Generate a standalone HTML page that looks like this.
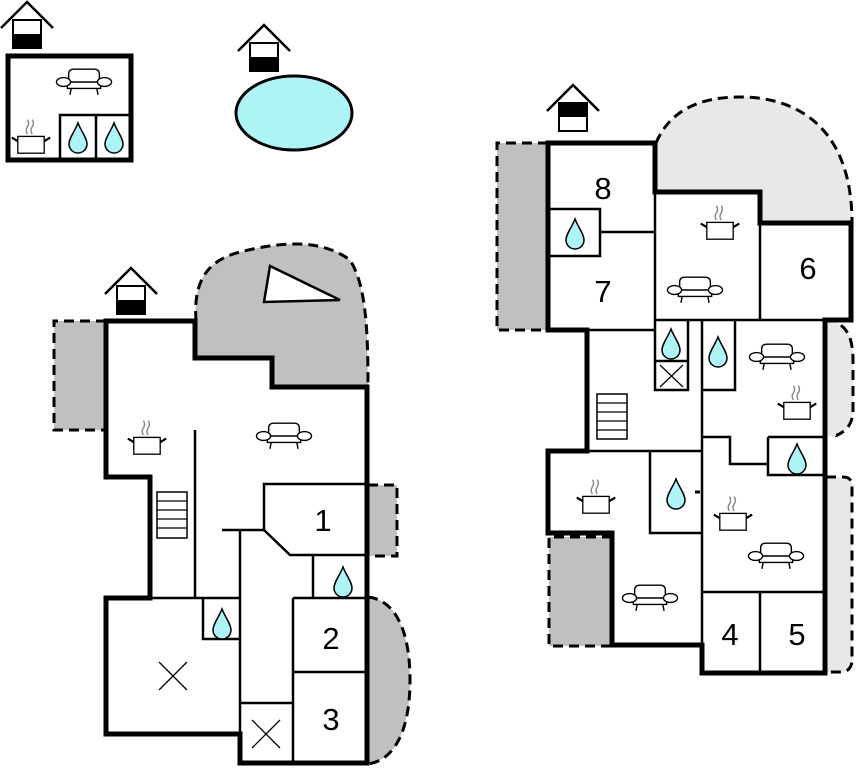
<!DOCTYPE html>
<html><head><meta charset="utf-8"><style>html,body{margin:0;padding:0;background:#fff}svg{display:block}</style></head>
<body>
<svg width="859" height="768" viewBox="0 0 859 768" xmlns="http://www.w3.org/2000/svg">
<defs>
<g id="sofa" fill="#fff" stroke="#000" stroke-width="1.1" transform="scale(1.28)">
<path d="M-12,0 V-6 Q-12,-10 -8,-10 H8 Q12,-10 12,-6 V0"/>
<path d="M-13,0 H13 V5 H-13Z"/>
<ellipse cx="-16" cy="0" rx="5.5" ry="3.5"/><ellipse cx="16" cy="0" rx="5.5" ry="3.5"/>
<path d="M-10,5 L-11,10 M10,5 L11,10" fill="none"/>
</g>
<g id="pot" transform="scale(1.2)">
<path d="M-3,-10 q-2,-3 0,-6 q2,-3 0,-6 M1,-10 q-2,-3 0,-6 q2,-3 0,-6" stroke="#888" stroke-width="1.2" fill="none"/>
<rect x="-11" y="-8" width="22" height="14" fill="#fff" stroke="#000" stroke-width="1.1"/>
<path d="M-11,-4 L-16,-7 M11,-4 L16,-7" stroke="#000" stroke-width="1.8"/>
</g>
<path id="drop" d="M0,-15 C-3,-7 -9,0 -9,6 A9,9 0 0 0 9,6 C9,0 3,-7 0,-15Z" fill="#aef4f6" stroke="#000" stroke-width="1.5"/>
<g id="houseB"><polyline points="-26,26 0,0 26,26" fill="none" stroke="#000" stroke-width="2.5"/><rect x="-14" y="18" width="28" height="28" fill="#fff" stroke="#000" stroke-width="2"/><rect x="-14" y="32" width="28" height="14" fill="#000"/></g>
<g id="houseT"><polyline points="-26,26 0,0 26,26" fill="none" stroke="#000" stroke-width="2.5"/><rect x="-14" y="18" width="28" height="28" fill="#fff" stroke="#000" stroke-width="2"/><rect x="-14" y="18" width="28" height="14" fill="#000"/></g>
<g id="xbox"><path d="M-14,-14 L14,14 M14,-14 L-14,14" stroke="#000" stroke-width="1.3"/></g>
</defs>

<!-- Top-left building -->
<use href="#houseB" x="27" y="2"/>
<rect x="8" y="56" width="123" height="104" fill="#fff" stroke="#000" stroke-width="5"/>
<path d="M60,162 V115 H131 M96,115 V162" fill="none" stroke="#000" stroke-width="2.5"/>
<use href="#sofa" x="84" y="82"/>
<use href="#pot" x="31" y="146"/>
<use href="#drop" x="78" y="138"/>
<use href="#drop" x="114" y="138"/>

<!-- Pool -->
<use href="#houseB" x="264" y="25"/>
<ellipse cx="294" cy="113" rx="58" ry="37" fill="#aef4f6" stroke="#000" stroke-width="3"/>

<!-- LEFT MAIN BUILDING -->
<path d="M106,321 H54 V430 H106" fill="#c0c0c0" stroke="#000" stroke-width="3" stroke-dasharray="10,6"/>
<path d="M196,321 C194,290 200,262 240,252 C280,242 320,238 350,260 C366,285 368,330 368,387 H272 V358 H196Z" fill="#c0c0c0"/>
<path d="M196,321 C194,290 200,262 240,252 C280,242 320,238 350,260 C366,285 368,330 368,387" fill="none" stroke="#000" stroke-width="3" stroke-dasharray="10,6"/>
<polygon points="264,302 270,266 340,300" fill="#fff" stroke="#000" stroke-width="2.5"/>
<path d="M368,485 H397 V556 H368" fill="#c0c0c0" stroke="#000" stroke-width="3" stroke-dasharray="10,6"/>
<path d="M368,597 C395,600 410,630 410,680 C410,730 395,760 368,764" fill="#c0c0c0" stroke="#000" stroke-width="3" stroke-dasharray="10,6"/>
<path d="M106,321 H195 V358 H272 V387 H367 V763 H240 V734 H106 V598 H150 V477 H106Z" fill="#fff" stroke="#000" stroke-width="5"/>
<use href="#houseB" x="131" y="268"/>
<g fill="none" stroke="#000" stroke-width="2.5">
<path d="M195,430 V598"/>
<path d="M150,598 H240"/>
<path d="M203,598 V639 H240"/>
<path d="M222,530 H264 V484 H367"/>
<path d="M264,530 L290,555 H367"/>
<path d="M240,530 V763"/>
<path d="M313,555 V598"/>
<path d="M293,598 V763 M293,598 H367 M293,672 H367"/>
<path d="M240,703 H293"/>
<rect x="157" y="492" width="30" height="46" stroke-width="1.5"/>
<path d="M157,501 H187 M157,510 H187 M157,519 H187 M157,528 H187" stroke-width="1.3"/>
</g>
<use href="#pot" x="147" y="447"/>
<use href="#sofa" x="284" y="436"/>
<use href="#drop" x="222" y="624"/>
<use href="#drop" x="343" y="582"/>
<use href="#xbox" x="173" y="676"/>
<use href="#xbox" x="266" y="734"/>
<g font-family="Liberation Sans, sans-serif" font-size="31" text-anchor="middle">
<text x="323" y="531">1</text>
<text x="331" y="649">2</text>
<text x="331" y="730">3</text>
</g>

<!-- RIGHT BUILDING -->
<path d="M548,143 H497 V330 H548" fill="#c0c0c0" stroke="#000" stroke-width="3" stroke-dasharray="10,6"/>
<path d="M656,143 C670,110 700,97 740,97 C800,97 852,130 852,223 H760 V192 H656Z" fill="#e8e8e8"/>
<path d="M656,143 C670,110 700,97 740,97 C800,97 852,130 852,223" fill="none" stroke="#000" stroke-width="3" stroke-dasharray="10,6"/>
<path d="M826,320 C845,322 853,335 853,360 V410 C853,425 845,433 832,437" fill="#e8e8e8" stroke="#000" stroke-width="3" stroke-dasharray="10,6"/>
<rect x="826" y="322" width="10" height="114" fill="#e8e8e8"/>
<path d="M826,477 H843 Q852,477 852,486 V660 Q852,670 843,672 H826" fill="#e8e8e8" stroke="#000" stroke-width="3" stroke-dasharray="10,6"/>
<path d="M612,537 H549 V646 H612" fill="#c0c0c0" stroke="#000" stroke-width="3" stroke-dasharray="10,6"/>
<path d="M548,143 H655 V192 H760 V223 H851 V320 H825 V673 H702 V645 H612 V533 H548 V451 H587 V330 H548Z" fill="#fff" stroke="#000" stroke-width="5"/>
<use href="#houseT" x="573" y="85"/>
<g fill="none" stroke="#000" stroke-width="2.5">
<path d="M548,209 H600 V256 H548 M600,232 H655"/>
<path d="M587,330 H655"/>
<path d="M655,192 V320 M655,320 H825"/>
<path d="M760,223 V320"/>
<path d="M655,361 H688 M655,320 V390 H688 V320"/>
<path d="M702,320 V673 M702,390 H735 V320"/>
<path d="M702,437 H730 V464 H768 M768,437 H825 M768,437 V475 H825"/>
<path d="M702,592 H825 M760,592 V673"/>
<path d="M587,451 H702"/>
<path d="M650,451 V533 H702"/>
<path d="M695,492 H700" stroke-width="3"/>
<rect x="597" y="394" width="30" height="45" stroke-width="1.5"/>
<path d="M597,403 H627 M597,412 H627 M597,421 H627 M597,430 H627" stroke-width="1.3"/>
</g>
<path d="M660,365 L683,387 M683,365 L660,387" stroke="#000" stroke-width="1.3"/>
<use href="#drop" x="575" y="234"/>
<use href="#drop" x="671" y="344"/>
<use href="#drop" x="718" y="352"/>
<use href="#drop" x="797" y="459"/>
<use href="#drop" x="676" y="494"/>
<use href="#pot" x="720" y="232"/>
<use href="#sofa" x="695" y="290"/>
<use href="#sofa" x="777" y="357"/>
<use href="#pot" x="797" y="412"/>
<use href="#pot" x="733" y="523"/>
<use href="#sofa" x="776" y="556"/>
<use href="#pot" x="596" y="506"/>
<use href="#sofa" x="650" y="598"/>
<g font-family="Liberation Sans, sans-serif" font-size="31" text-anchor="middle">
<text x="603" y="199">8</text>
<text x="603" y="302">7</text>
<text x="808" y="279">6</text>
<text x="730" y="645">4</text>
<text x="797" y="645">5</text>
</g>
</svg>
</body></html>
